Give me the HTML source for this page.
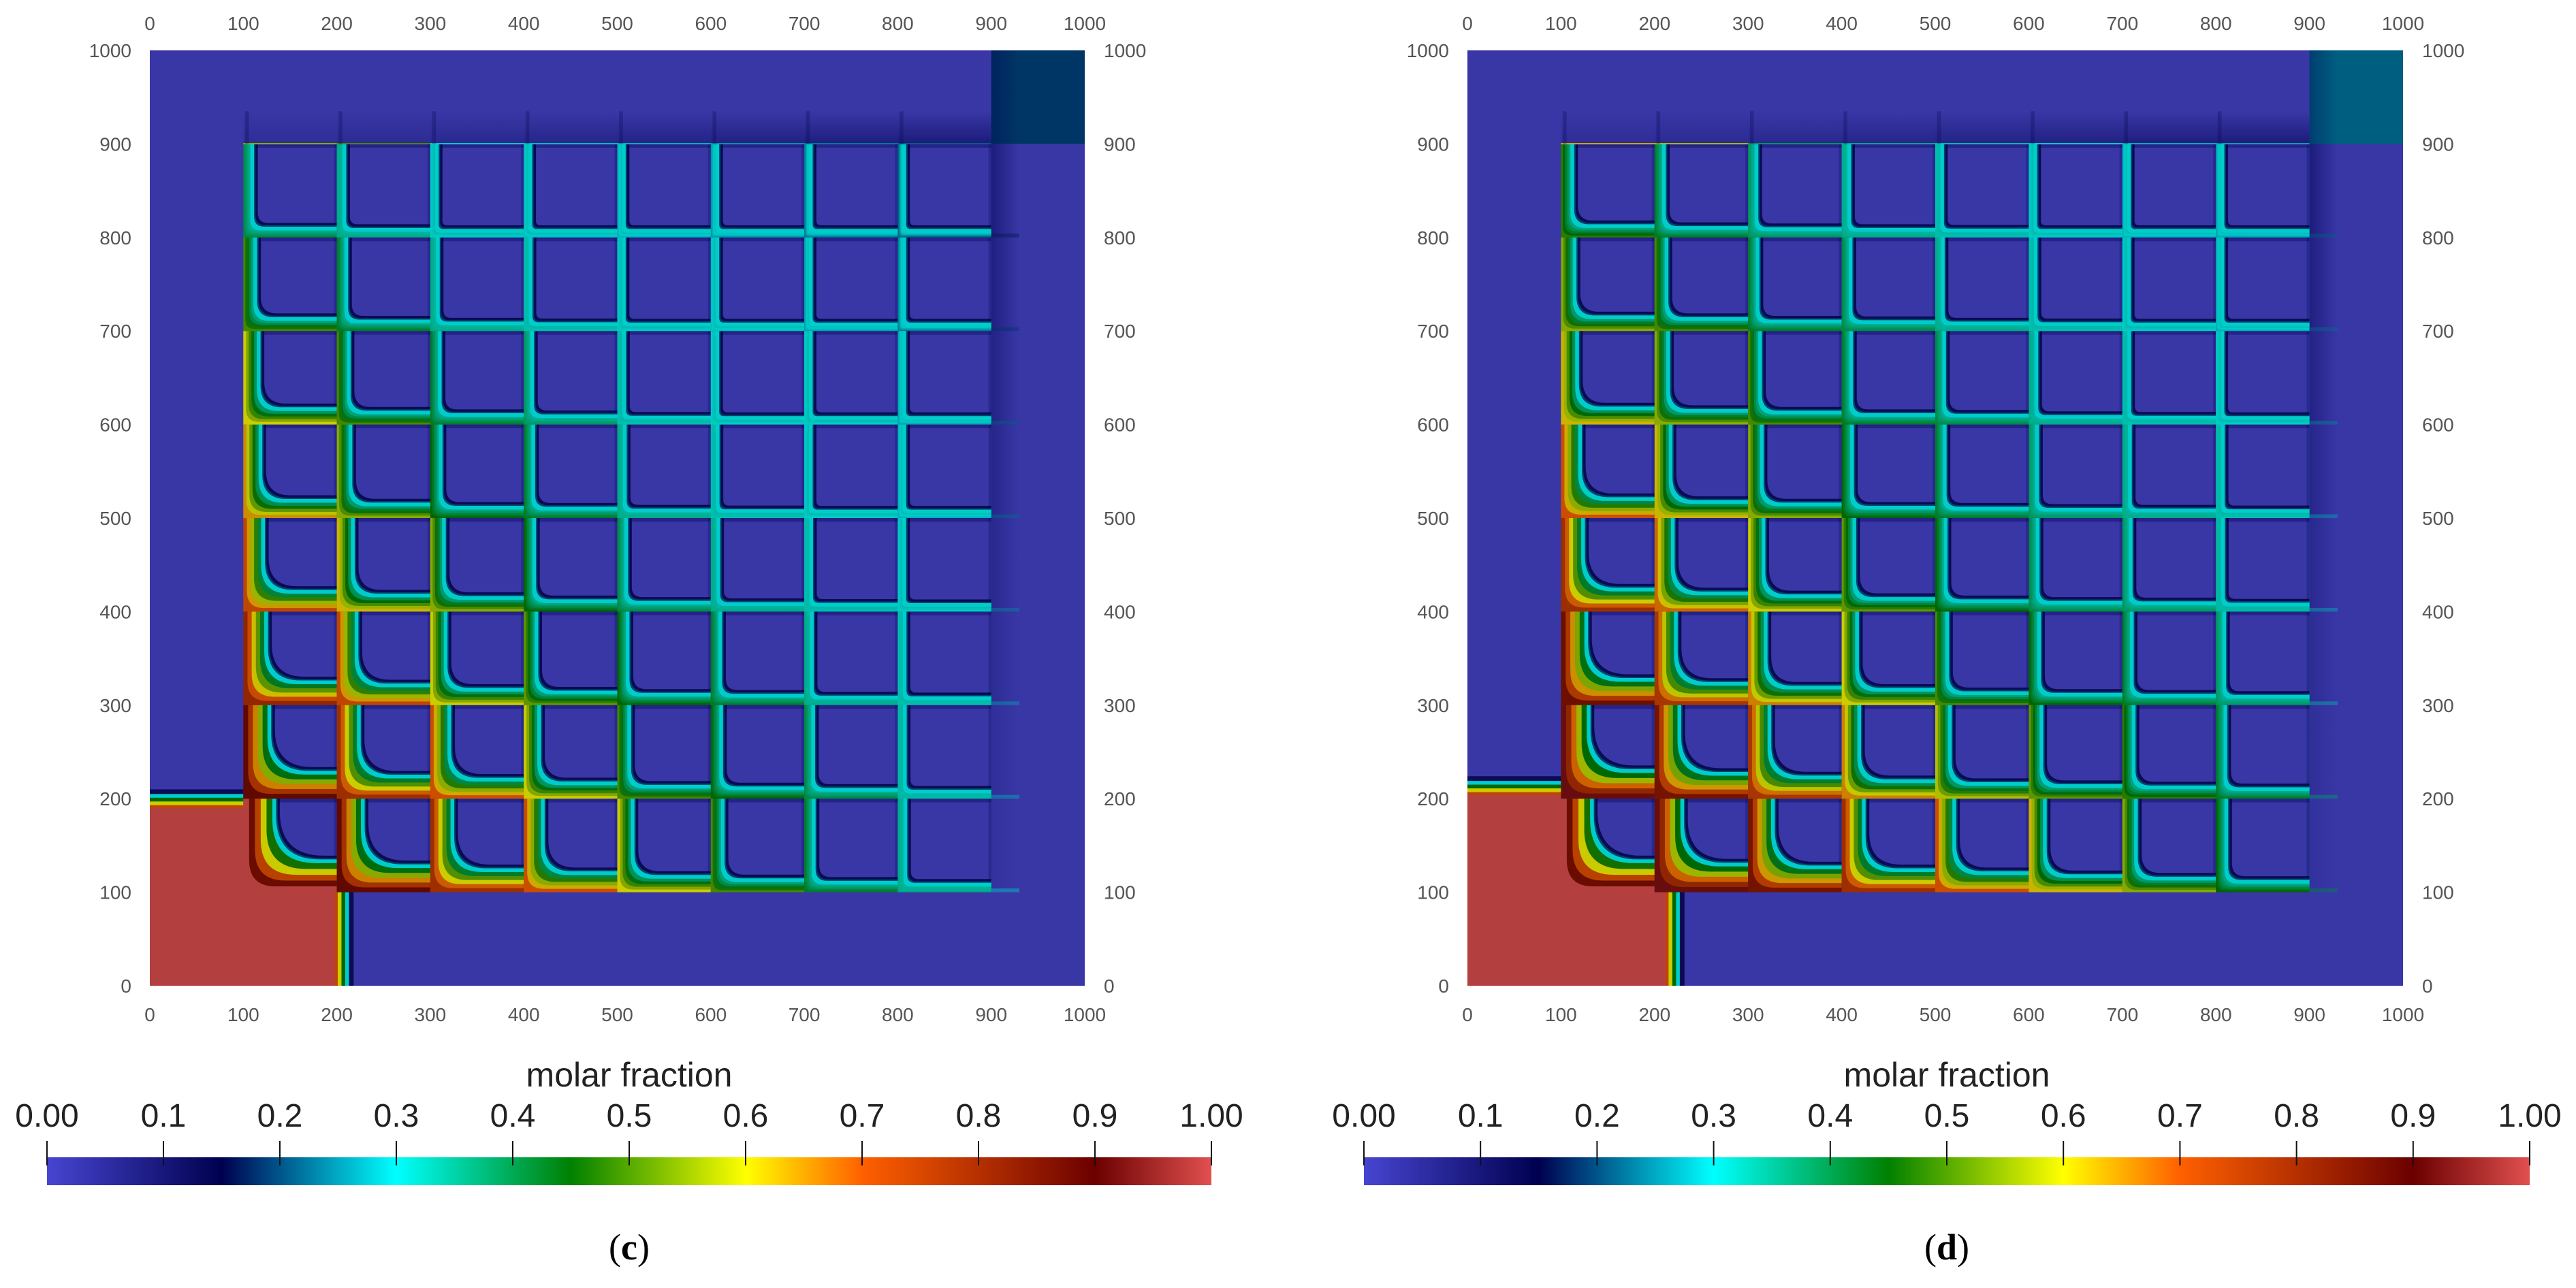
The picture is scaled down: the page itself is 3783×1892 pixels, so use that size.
<!DOCTYPE html>
<html><head><meta charset="utf-8"><style>
html,body{margin:0;padding:0;background:#fff;}
svg{display:block;}
</style></head><body>
<svg id="fig" xmlns="http://www.w3.org/2000/svg" width="3783" height="1892" viewBox="0 0 3783 1892">
<defs id="defs"></defs>
</svg>
<script>
const axisTicks=[0,100,200,300,400,500,600,700,800,900,1000];
const cbTickValues=[0,0.1,0.2,0.3,0.4,0.5,0.6,0.7,0.8,0.9,1.0];
const cbTickLabels=['0.00','0.1','0.2','0.3','0.4','0.5','0.6','0.7','0.8','0.9','1.00'];
// band values of interior cells, rows from y=100 (bottom) upward, columns from x=100 rightward
const bandC=[
 [1.0,0.88,0.78,0.7,0.6,0.5,0.42,0.35],
 [0.88,0.78,0.7,0.6,0.5,0.45,0.4,0.33],
 [0.8,0.72,0.6,0.52,0.45,0.42,0.35,0.32],
 [0.72,0.62,0.55,0.45,0.4,0.35,0.32,0.3],
 [0.65,0.55,0.45,0.42,0.35,0.32,0.3,0.28],
 [0.6,0.5,0.42,0.38,0.32,0.3,0.3,0.27],
 [0.5,0.42,0.35,0.32,0.3,0.29,0.27,0.24],
 [0.4,0.35,0.3,0.29,0.28,0.26,0.24,0.22]];
const bandD=[
 [1.0,0.92,0.85,0.78,0.7,0.62,0.55,0.45],
 [0.92,0.85,0.76,0.66,0.58,0.52,0.48,0.42],
 [0.86,0.76,0.66,0.6,0.5,0.45,0.42,0.38],
 [0.78,0.68,0.6,0.52,0.45,0.4,0.38,0.33],
 [0.7,0.62,0.55,0.45,0.42,0.38,0.35,0.32],
 [0.62,0.55,0.5,0.42,0.4,0.35,0.32,0.3],
 [0.55,0.5,0.42,0.4,0.35,0.32,0.3,0.28],
 [0.48,0.42,0.38,0.35,0.32,0.3,0.28,0.27]];
const cornerValues=[0.19,0.22];
const frontValues=[198,212];
const panelLabels=['c','d'];

const NS='http://www.w3.org/2000/svg';
const svg=document.getElementById('fig');
const defs=document.getElementById('defs');
const stops=[[0,[71,69,208]],[0.15,[0,0,80]],[0.3,[0,255,255]],[0.45,[0,128,0]],[0.6,[255,255,0]],[0.7,[255,96,0]],[0.9,[107,0,0]],[1.0,[224,80,79]]];
function cmap(v,dim){
  v=Math.max(0,Math.min(1,v));
  let i=0;while(i<stops.length-2&&v>stops[i+1][0])i++;
  const a=stops[i],b=stops[i+1],t=(v-a[0])/(b[0]-a[0]);
  const c=a[1].map((x,k)=>Math.round((x+(b[1][k]-x)*t)*dim));
  return `rgb(${c[0]},${c[1]},${c[2]})`;
}
function mk(tag,attrs,parent){const e=document.createElementNS(NS,tag);for(const k in attrs)e.setAttribute(k,attrs[k]);(parent||svg).appendChild(e);return e;}

const panels=[{x0:220,x1:1593,yT:74,yB:1448,cb0:69,cb1:1779,band:bandC},{x0:2155,x1:3529,yT:74,yB:1448,cb0:2003,cb1:3715,band:bandD}];
const DIM=0.8;

const lg=mk('linearGradient',{id:'cbgrad',x1:'0',x2:'1',y1:'0',y2:'0'},defs);
stops.forEach(s=>mk('stop',{offset:s[0],'stop-color':cmap(s[0],1)},lg));
const gR=mk('linearGradient',{id:'shadeR',x1:'0',x2:'1',y1:'0',y2:'0'},defs);
mk('stop',{offset:0,'stop-color':'#000050','stop-opacity':0.7},gR);mk('stop',{offset:0.3,'stop-color':'#000050','stop-opacity':0},gR);
const gT=mk('linearGradient',{id:'shadeT',x1:'0',x2:'0',y1:'1',y2:'0'},defs);
mk('stop',{offset:0,'stop-color':'#000050','stop-opacity':0.6},gT);mk('stop',{offset:0.35,'stop-color':'#000050','stop-opacity':0},gT);

panels.forEach((P,pi)=>{
  const g=mk('g',{});
  
  
  const sc=(P.x1-P.x0)/1000, scy=(P.yB-P.yT)/1000;
  const sx=v=>P.x0+v*sc, sy=v=>P.yB-v*scy;
  const R=(x0,y0,x1,y1,fill,extra)=>mk('rect',Object.assign({x:sx(x0),y:sy(y1),width:sx(x1)-sx(x0),height:sy(y0)-sy(y1),fill:fill},extra||{}),g);
  const bg=R(0,0,1000,1000,cmap(0,DIM));
  
  const f=frontValues[pi];
  const rings=[[f+20,0.12],[f+15,0.3],[f+11,0.45],[f+7,0.6],[f+3,0.72]];
  rings.forEach(rg=>{R(0,0,rg[0],100,cmap(rg[1],DIM));R(0,0,100,rg[0]-8,cmap(rg[1],DIM));});
  R(0,0,f,100,cmap(1.0,DIM));R(0,0,100,f-8,cmap(1.0,DIM));
  P.band.forEach((row,j)=>row.forEach((v,i)=>{
    const X0=100+100*i,Y0=100+100*j;
    const cg=mk('g',{},g);
    
    
    const bw=5+40*Math.pow(Math.max(0,v-0.3),1.2);
    const rr=5+60*Math.max(0,v-0.3);
    const path=(o,val,r)=>{
      const left=sx(X0+o),bottom=sy(Y0+o),right=sx(X0+100),top=sy(Y0+100);
      let rp=Math.min(r*sc,(right-left)*0.9,(bottom-top)*0.9);
      mk('path',{d:`M${left},${top} L${right},${top} L${right},${bottom} L${left+rp},${bottom} Q${left},${bottom} ${left},${bottom-rp} Z`,fill:cmap(val,DIM)},cg);
    };
    const n=5;
    for(let k=0;k<n;k++)path(bw*k/n,v-(v-0.33)*k/n,k===0?0:rr*(0.5+0.5*k/n));
    path(bw,0.3,rr);
    path(bw+4,0.2,rr);
    path(bw+5.5,0.12,rr);
    path(bw+8,0.0,rr);
    mk('rect',{x:sx(X0+bw+6),y:sy(Y0+100),width:sx(X0+100)-sx(X0+bw+6),height:4*scy,fill:'#000050',opacity:0.35},cg);
    mk('rect',{x:sx(X0+97),y:sy(Y0+100),width:3*sc,height:sy(Y0+bw+6)-sy(Y0+100),fill:'#000050',opacity:0.25},cg);
  }));
  for(let i=0;i<8;i++){
    const X0=100+100*i;
    const t=R(X0,900,X0+100,1000,'url(#shadeT)',{opacity:0.3+0.08*i});
    
    R(X0,899.5,X0+100,901,cmap(P.band[7][i]+(i<2?0.15:0),DIM));
    R(X0+2,900,X0+6,935,cmap(0.12,DIM),{opacity:0.3});
  }
  for(let j=0;j<8;j++){
    const Y0=100+100*j;
    const s=R(900,Y0,1000,Y0+100,'url(#shadeR)',{opacity:0.15+0.08*j});
    
    R(900,Y0,930,Y0+4,cmap(P.band[j][7]-0.05,DIM),{opacity:0.45});
  }
  const cr=R(900,900,1000,1000,cmap(cornerValues[pi],DIM));
  
  R(900,900,1000,1000,'url(#shadeR)',{opacity:0.5});

  axisTicks.forEach(t=>{
    const st={'font-family':'"Liberation Sans",sans-serif','font-size':28,fill:'#555'};
    const a=mk('text',Object.assign({x:sx(t),y:44,'text-anchor':'middle'},st));a.textContent=t;
    
    const b=mk('text',Object.assign({x:sx(t),y:1500,'text-anchor':'middle'},st));b.textContent=t;
    
    const l=mk('text',Object.assign({x:P.x0-27,y:sy(t)+10,'text-anchor':'end'},st));l.textContent=t;
    
    const r=mk('text',Object.assign({x:P.x1+28,y:sy(t)+10,'text-anchor':'start'},st));r.textContent=t;
    
  });

  const cbx=v=>P.cb0+(P.cb1-P.cb0)*v;
  const ttl=mk('text',{x:(P.cb0+P.cb1)/2,y:1596,'text-anchor':'middle','font-family':'"Liberation Sans",sans-serif','font-size':50,fill:'#222'});
  ttl.textContent='molar fraction';
  
  const bar=mk('rect',{x:P.cb0,y:1700,width:P.cb1-P.cb0,height:41,fill:'url(#cbgrad)'});
  
  cbTickValues.forEach((v,k)=>{
    const ln=mk('line',{x1:cbx(v),x2:cbx(v),y1:1676,y2:1712,stroke:'#111','stroke-width':2});
    
    const tx=mk('text',{x:cbx(v),y:1655,'text-anchor':'middle','font-family':'"Liberation Sans",sans-serif','font-size':48,fill:'#222'});
    tx.textContent=cbTickLabels[k];
    
  });
  const cap=mk('text',{x:(P.cb0+P.cb1)/2,y:1850,'text-anchor':'middle','font-family':'"Liberation Serif",serif','font-size':54,fill:'#000'});
  
  cap.appendChild(document.createTextNode('('));
  const bt=mk('tspan',{'font-weight':'bold'},cap);bt.textContent=panelLabels[pi];
  cap.appendChild(document.createTextNode(')'));
});
</script>
</body></html>
